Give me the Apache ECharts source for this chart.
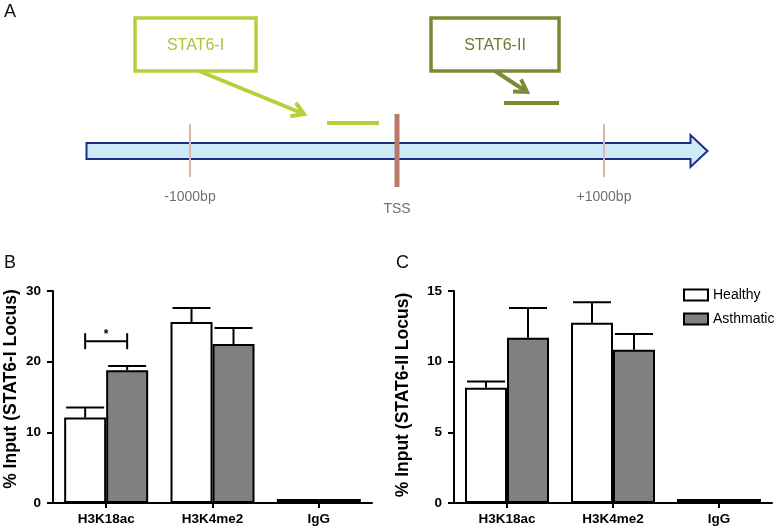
<!DOCTYPE html>
<html><head><meta charset="utf-8">
<script src="https://cdn.jsdelivr.net/npm/echarts@6/dist/echarts.min.js"></script>
<style>html,body{margin:0;padding:0;background:#fff}#c{width:778px;height:530px}</style>
</head><body><div id="c"></div><script>
// ---------- Panel A data (positions in bp relative to TSS) ----------
const geneSpanBp = [-1500, 1500];
const markerBp = [-1000, 0, 1000];
const markerLabels = ['-1000bp', 'TSS', '+1000bp'];
const regionNames = ['STAT6-I', 'STAT6-II'];
const regionStartBp = [-338, 517];
const regionEndBp = [-87, 783];

// ---------- Panels B / C data ----------
const categories = ['H3K18ac', 'H3K4me2', 'IgG'];
const seriesNames = ['Healthy', 'Asthmatic'];
const stat6IHealthy = [12.1, 25.6, 0.55];
const stat6IHealthyErr = [1.4, 2.0, 0];
const stat6IAsthmatic = [18.8, 22.5, 0.55];
const stat6IAsthmaticErr = [0.6, 2.25, 0];
const stat6IIHealthy = [8.15, 12.75, 0.28];
const stat6IIHealthyErr = [0.45, 1.45, 0];
const stat6IIAsthmatic = [11.7, 10.85, 0.28];
const stat6IIAsthmaticErr = [2.1, 1.1, 0];
const yTicksB = [0, 10, 20, 30];
const yTicksC = [0, 5, 10, 15];
const sigCategory = 0;
const sigLevel = 22.9;
const sigLabel = '*';

// ---------- styles / layout ----------
const FONT = '"Liberation Sans", Arial, sans-serif';
const BAR_W = 42;
const regionStyle = [
  {color: '#bccd3b', text: '#aec23a', lane: -28, boxDx: -131.5, boxW: 121, fromDx: 3.5, tipDx: -23, tipDy: -9},
  {color: '#7b8a33', text: '#6b7a2f', lane: -48, boxDx: -9, boxW: 128, fromDx: 0, tipDx: 23, tipDy: -11}
];

function arrowHead(tip, from, len) {
  const a = Math.atan2(tip[1] - from[1], tip[0] - from[0]);
  const a1 = a + Math.PI - 0.55, a2 = a + Math.PI + 0.55;
  return [[tip[0] + len * Math.cos(a1), tip[1] + len * Math.sin(a1)], tip,
          [tip[0] + len * Math.cos(a2), tip[1] + len * Math.sin(a2)]];
}

function valueAxis(grid, ticks, name, gap, pad) {
  return {
    type: 'value', gridIndex: grid, min: ticks[0], max: ticks[ticks.length - 1],
    interval: ticks[1] - ticks[0],
    axisLine: {show: true, lineStyle: {color: '#000', width: 2}},
    axisTick: {show: true, length: 6, lineStyle: {color: '#000', width: 2}},
    axisLabel: {color: '#000', fontWeight: 'bold', fontSize: 13.5, fontFamily: FONT, margin: 12},
    splitLine: {show: false},
    name: name, nameLocation: 'middle', nameGap: gap, nameRotate: 90,
    nameTextStyle: {color: '#000', fontWeight: 'bold', fontSize: 17.5, fontFamily: FONT, padding: pad}
  };
}
function catAxis(grid) {
  return {
    type: 'category', gridIndex: grid, data: categories,
    axisLine: {show: true, lineStyle: {color: '#000', width: 2}},
    axisTick: {show: true, alignWithLabel: true, length: 5, lineStyle: {color: '#000', width: 2}},
    axisLabel: {color: '#000', fontWeight: 'bold', fontSize: 13.5, fontFamily: FONT, margin: 9}
  };
}
function barSeries(name, grid, values, fill) {
  return {
    name: name, type: 'bar', xAxisIndex: grid, yAxisIndex: grid, animation: false, z: 3,
    barWidth: BAR_W, barGap: '0%', clip: false,
    // very low bars render as a solid black band, as in the original plot
    data: values.map(v => v < 1 ? {value: v, itemStyle: {color: '#000'}} : v),
    itemStyle: {color: fill, borderColor: '#000', borderWidth: 2}
  };
}
function errSeries(grid, values, errs, offset) {
  return {
    type: 'custom', xAxisIndex: grid, yAxisIndex: grid, z: 4, animation: false,
    data: values.map((v, i) => [i, v, errs[i]]),
    renderItem: function (params, api) {
      const e = api.value(2);
      if (!e) return null;
      const base = api.coord([api.value(0), api.value(1)]);
      const top = api.coord([api.value(0), api.value(1) + e]);
      const x = base[0] + offset;
      const cap = BAR_W / 2 - 2;
      const st = {stroke: '#000', lineWidth: 2};
      return {type: 'group', children: [
        {type: 'line', shape: {x1: x, y1: base[1], x2: x, y2: top[1]}, style: st},
        {type: 'line', shape: {x1: x - cap, y1: top[1], x2: x + cap, y2: top[1]}, style: st}
      ]};
    }
  };
}

const option = {
  animation: false,
  title: [
    {text: 'A', left: 4, top: 3, padding: 0, textStyle: {fontSize: 18, fontWeight: 'normal', color: '#111', fontFamily: FONT}},
    {text: 'B', left: 4, top: 254, padding: 0, textStyle: {fontSize: 18, fontWeight: 'normal', color: '#111', fontFamily: FONT}},
    {text: 'C', left: 396, top: 254, padding: 0, textStyle: {fontSize: 18, fontWeight: 'normal', color: '#111', fontFamily: FONT}}
  ],
  legend: {
    data: seriesNames, orient: 'vertical', left: 683, top: 288, padding: 0,
    itemWidth: 24, itemHeight: 11, itemGap: 10, icon: 'rect', selectedMode: false,
    textStyle: {fontSize: 14, color: '#000', fontFamily: FONT}
  },
  grid: [
    {left: 190, right: 174, top: 120, height: 62},
    {left: 53, top: 291, width: 319, height: 212},
    {left: 454, top: 291, width: 318, height: 212}
  ],
  xAxis: [
    {type: 'value', gridIndex: 0, min: -1000, max: 1000, show: false},
    catAxis(1), catAxis(2)
  ],
  yAxis: [
    {type: 'value', gridIndex: 0, min: -1, max: 1, show: false},
    valueAxis(1, yTicksB, '% Input (STAT6-I Locus)', 33, [0, 0, 0, 16]),
    valueAxis(2, yTicksC, '% Input (STAT6-II Locus)', 42, [0, 0, 0, 4])
  ],
  series: [
    // gene body arrow
    {
      type: 'custom', xAxisIndex: 0, yAxisIndex: 0, z: 1, animation: false,
      data: [[geneSpanBp[0], geneSpanBp[1]]],
      renderItem: function (params, api) {
        const p0 = api.coord([api.value(0), 0]);
        const p1 = api.coord([api.value(1), 0]);
        const cy = p0[1], hl = 17;
        return {
          type: 'polygon',
          shape: {points: [[p0[0], cy - 8], [p1[0] - hl, cy - 8], [p1[0] - hl, cy - 16], [p1[0], cy],
                           [p1[0] - hl, cy + 16], [p1[0] - hl, cy + 8], [p0[0], cy + 8]]},
          style: {fill: '#cdeaf9', stroke: '#1e2c8a', lineWidth: 2}
        };
      }
    },
    // position markers
    {
      type: 'custom', xAxisIndex: 0, yAxisIndex: 0, z: 2, animation: false,
      data: markerBp.map(v => [v, 0]),
      renderItem: function (params, api) {
        const p = api.coord([api.value(0), 0]);
        const i = params.dataIndex;
        const tss = api.value(0) === 0;
        const cy = p[1];
        return {type: 'group', children: [
          {type: 'line', shape: {x1: p[0], y1: cy - (tss ? 37 : 27), x2: p[0], y2: cy + (tss ? 36 : 26)},
           style: {stroke: tss ? '#b8786a' : '#dcb4ab', lineWidth: tss ? 5 : 2}},
          {type: 'text', style: {text: markerLabels[i], x: p[0], y: cy + (tss ? 58 : 46), align: 'center',
           verticalAlign: 'middle', font: '14px ' + FONT, fill: '#707070'}}
        ]};
      }
    },
    // STAT6 regions with callouts
    {
      type: 'custom', xAxisIndex: 0, yAxisIndex: 0, z: 3, animation: false,
      data: regionStartBp.map((s, i) => [s, regionEndBp[i]]),
      renderItem: function (params, api) {
        const i = params.dataIndex;
        const st = regionStyle[i];
        const s = api.coord([api.value(0), 0]);
        const e = api.coord([api.value(1), 0]);
        const cy = s[1];
        const segY = cy + st.lane;
        const bxC = s[0] + st.boxDx;
        const boxTop = cy - 133, boxH = 53;
        const from = [bxC + st.fromDx, boxTop + boxH];
        const tip = [s[0] + st.tipDx, segY + st.tipDy];
        return {type: 'group', children: [
          {type: 'line', shape: {x1: s[0], y1: segY, x2: e[0], y2: segY}, style: {stroke: st.color, lineWidth: 4}},
          {type: 'rect', shape: {x: bxC - st.boxW / 2, y: boxTop, width: st.boxW, height: boxH},
           style: {fill: '#fff', stroke: st.color, lineWidth: 3.5}},
          {type: 'text', style: {text: regionNames[i], x: bxC, y: boxTop + boxH / 2 + 1, align: 'center',
           verticalAlign: 'middle', font: '16px ' + FONT, fill: st.text}},
          {type: 'polyline', shape: {points: [from, tip]}, style: {stroke: st.color, lineWidth: 4, fill: null}},
          {type: 'polyline', shape: {points: arrowHead(tip, from, 14)}, style: {stroke: st.color, lineWidth: 4, fill: null}}
        ]};
      }
    },
    // Panel B
    barSeries(seriesNames[0], 1, stat6IHealthy, '#ffffff'),
    barSeries(seriesNames[1], 1, stat6IAsthmatic, '#808080'),
    errSeries(1, stat6IHealthy, stat6IHealthyErr, -BAR_W / 2),
    errSeries(1, stat6IAsthmatic, stat6IAsthmaticErr, BAR_W / 2),
    {
      type: 'custom', xAxisIndex: 1, yAxisIndex: 1, z: 4, animation: false,
      data: [[sigCategory, sigLevel]],
      renderItem: function (params, api) {
        const p = api.coord([api.value(0), api.value(1)]);
        const xl = p[0] - BAR_W / 2, xr = p[0] + BAR_W / 2, y = p[1];
        const st = {stroke: '#000', lineWidth: 2};
        return {type: 'group', children: [
          {type: 'line', shape: {x1: xl, y1: y, x2: xr, y2: y}, style: st},
          {type: 'line', shape: {x1: xl, y1: y - 8, x2: xl, y2: y + 8}, style: st},
          {type: 'line', shape: {x1: xr, y1: y - 8, x2: xr, y2: y + 8}, style: st},
          {type: 'text', style: {text: sigLabel, x: p[0], y: y - 6, align: 'center', verticalAlign: 'middle',
           font: 'bold 12px ' + FONT, fill: '#000'}}
        ]};
      }
    },
    // Panel C
    barSeries(seriesNames[0], 2, stat6IIHealthy, '#ffffff'),
    barSeries(seriesNames[1], 2, stat6IIAsthmatic, '#808080'),
    errSeries(2, stat6IIHealthy, stat6IIHealthyErr, -BAR_W / 2),
    errSeries(2, stat6IIAsthmatic, stat6IIAsthmaticErr, BAR_W / 2)
  ]
};
const chart = echarts.init(document.getElementById('c'), null, {renderer: 'canvas'});
chart.setOption(option);
</script></body></html>
